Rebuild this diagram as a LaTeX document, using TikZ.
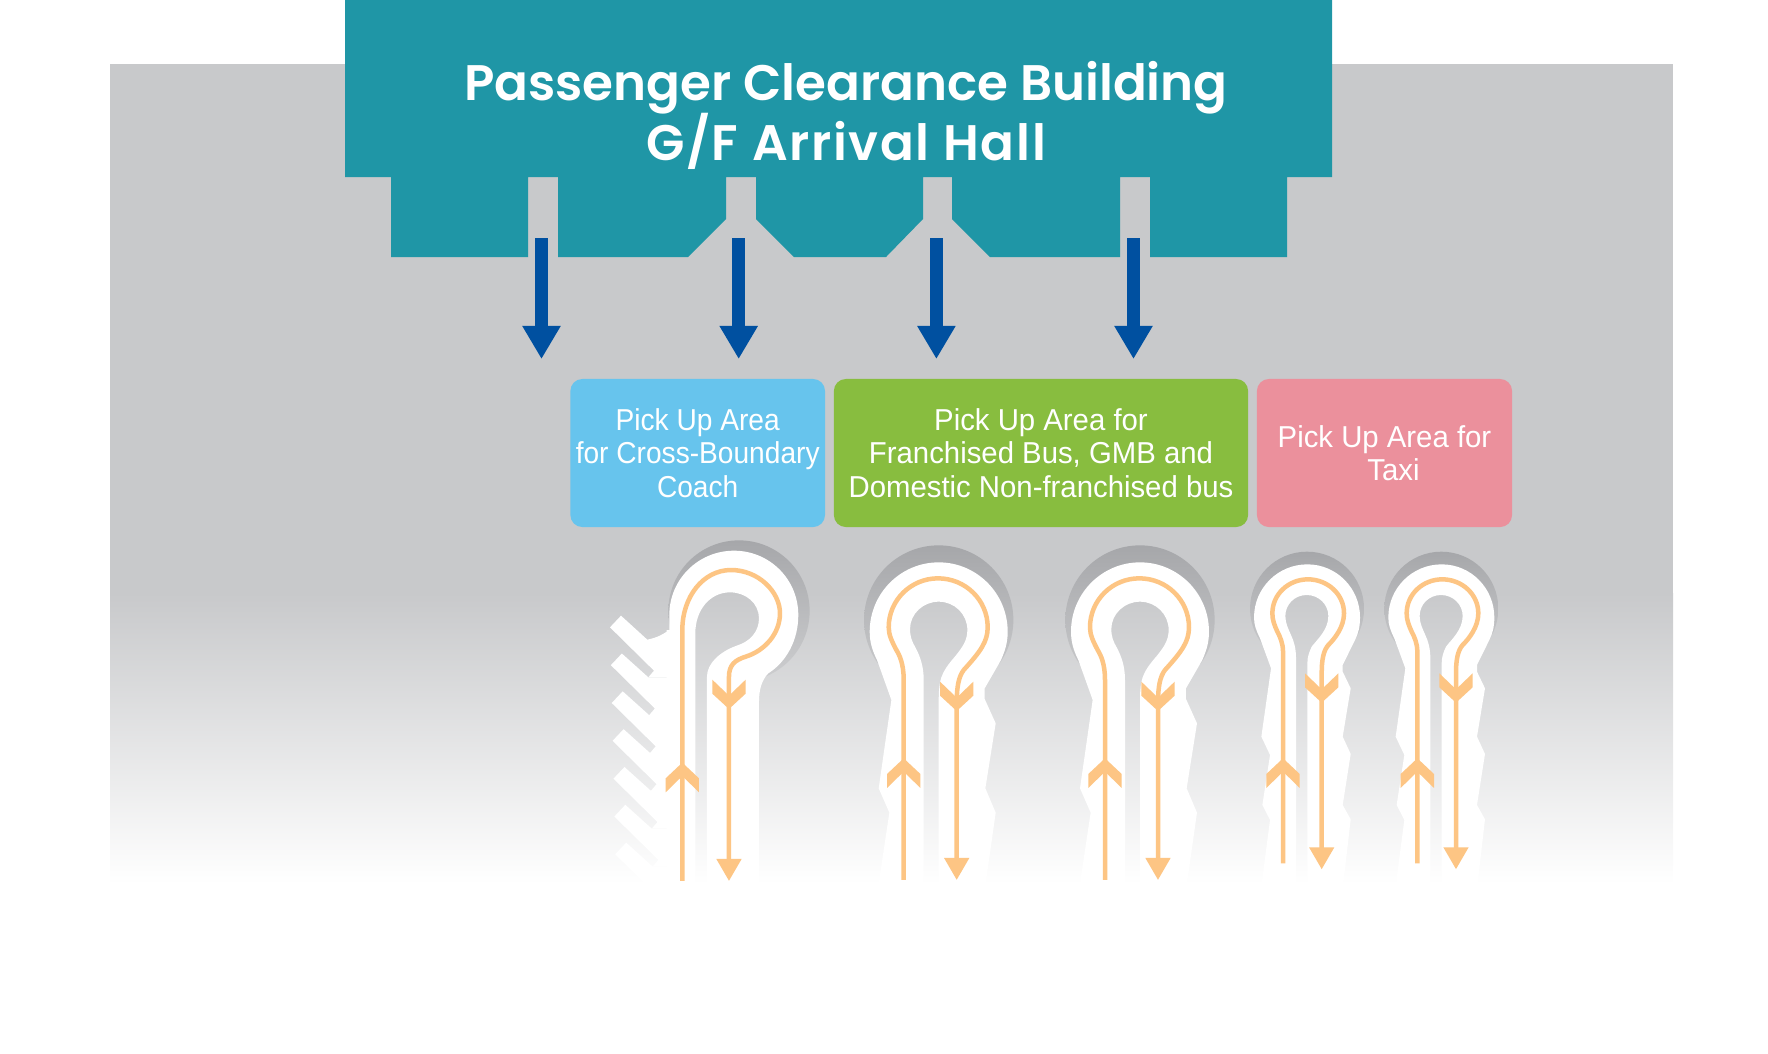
\documentclass[tikz,border=0pt]{standalone}
\usepackage{fontspec}
\setmainfont{Liberation Sans}
\newfontfamily\hallfont{Poppins SemiBold}
\newfontfamily\busfont[FakeStretch=.97]{Liberation Sans}
\newfontfamily\coachfont[FakeStretch=.93]{Liberation Sans}
\usetikzlibrary{arrows.meta}
\definecolor{bggray}{HTML}{C8C9CB}
\definecolor{hallteal}{HTML}{1F96A6}
\definecolor{walkblue}{HTML}{0050A0}
\definecolor{coachblue}{HTML}{67C4ED}
\definecolor{busgreen}{HTML}{88BD3F}
\definecolor{taxipink}{HTML}{EB909C}
\definecolor{lanecol}{HTML}{FDC584}
\definecolor{pinshadow}{HTML}{A6A7AA}
\newcommand{\chevup}[2]{\fill[lanecol] (#1,#2) -- ++(50,47) -- ++(0,42) -- ++(-50,-49) -- ++(-50,49) -- ++(0,-42) -- cycle;}
\newcommand{\chevdown}[2]{\fill[lanecol] (#1,#2) -- ++(50,-46) -- ++(0,-42) -- ++(-50,48) -- ++(-50,-48) -- ++(0,42) -- cycle;}
\tikzset{
  walkarrow/.style={line width=.13cm,walkblue,-{Triangle[width=.36cm,length=.33cm]}},
  lane/.style={line width=.045cm,lanecol,-{Triangle[width=.24cm,length=.22cm]}},
  pickup/.style={rounded corners=.12cm,minimum height=1.48cm,inner sep=0pt,text=white,align=center},
  crescent/.style={even odd rule,top color=pinshadow,middle color=pinshadow,bottom color=bggray!90!white},
  % big hairpin, units are a third of a pixel, y counted from the row top
  bigpin/.pic={
    \begin{scope}
      \clip (-300,0) rectangle (300,400);
      \shade[crescent] (0,270) circle (224) (0,270) circle (150);
    \end{scope}
    \fill[white] (-180,1060) -- (-148,848) -- (-180,775) -- (-142,510) -- (-185,390)
      .. controls (-200,360) and (-207,335) .. (-207,305)
      .. controls (-207,190) and (-114,97) .. (0,97)
      .. controls (114,97) and (207,190) .. (207,305)
      .. controls (207,345) and (195,370) .. (187,390)
      -- (138,475) -- (138,507) -- (171,580) -- (140,775) -- (171,848) -- (141,1060) -- (0,1060) -- (0,510)
      .. controls (0,470) and (5,445) .. (13,430)
      .. controls (25,405) and (45,385) .. (55,372)
      .. controls (72,350) and (86,330) .. (86,300)
      .. controls (86,252) and (47,215) .. (0,215)
      .. controls (-47,215) and (-86,252) .. (-86,297)
      .. controls (-86,320) and (-80,335) .. (-70,352)
      .. controls (-55,380) and (-45,410) .. (-45,450)
      -- (-45,1060) -- cycle;
    \draw[lane] (-105,1050) -- (-105,450)
      .. controls (-105,400) and (-118,375) .. (-127,360)
      .. controls (-140,335) and (-150,315) .. (-150,292)
      .. controls (-150,210) and (-83,145) .. (-2,145)
      .. controls (80,145) and (147,210) .. (147,292)
      .. controls (147,335) and (125,365) .. (75,420)
      .. controls (60,440) and (54,470) .. (54,520) -- (54,1050);
    \chevup{-105}{685}
    \chevdown{54}{543}
  },
  % small hairpin
  smallpin/.pic={
    \begin{scope}
      \clip (-300,0) rectangle (300,345);
      \shade[crescent] (1,236) circle (171) (1,250) circle (115);
    \end{scope}
    \fill[white] (-135,1060) -- (-110,870) -- (-133,825) -- (-110,675) -- (-136,620) -- (-107,415) -- (-140,325)
      .. controls (-152,300) and (-158,285) .. (-158,262)
      .. controls (-158,175) and (-87,103) .. (2,103)
      .. controls (90,103) and (160,175) .. (160,262)
      .. controls (160,290) and (155,310) .. (145,330)
      -- (108,405) -- (108,425) -- (132,475) -- (108,620) -- (132,672) -- (108,825) -- (132,868) -- (110,1060) -- (2,1060) -- (2,400)
      .. controls (2,380) and (8,365) .. (15,350)
      .. controls (30,330) and (65,300) .. (65,258)
      .. controls (65,223) and (36,195) .. (0,195)
      .. controls (-36,195) and (-64,223) .. (-64,258)
      .. controls (-64,280) and (-55,297) .. (-47,315)
      .. controls (-38,335) and (-32,355) .. (-32,385)
      -- (-32,1060) -- cycle;
    \draw[lane] (-71,1000) -- (-71,365)
      .. controls (-71,340) and (-80,320) .. (-88,305)
      .. controls (-97,285) and (-103,270) .. (-103,250)
      .. controls (-103,193) and (-55,148) .. (4,148)
      .. controls (63,148) and (112,193) .. (112,250)
      .. controls (112,290) and (85,325) .. (65,345)
      .. controls (50,362) and (45,390) .. (45,430) -- (45,1018);
    \chevup{-71}{685}
    \chevdown{45}{518}
  },
  % coach hairpin with its bays
  coachpin/.pic={
    \begin{scope}
      \clip (200,0) -- (720,0) -- (720,470) -- (540,470) -- (530,400) -- (462,265) -- (340,310) -- (200,310) -- cycle;
      \shade[crescent] (477,243) circle (212) (462,265) circle (150);
    \end{scope}
    \fill[white] (268,300) -- (268,255)
      .. controls (268,148) and (355,62) .. (462,62)
      .. controls (569,62) and (655,148) .. (655,255)
      .. controls (655,330) and (620,395) .. (565,430)
      .. controls (545,450) and (537,480) .. (537,515)
      -- (537,1060) -- (381,1060) -- (381,440)
      .. controls (381,400) and (420,365) .. (470,347)
      .. controls (510,335) and (537,305) .. (537,265)
      .. controls (537,220) and (498,187) .. (450,187)
      .. controls (390,187) and (346,240) .. (346,310)
      -- (346,1060) -- (260,1060) -- (260,300) -- cycle;
    \fill[white] (268,300) .. controls (250,312) and (235,322) .. (202,329) -- (123,257) -- (90,292) -- (222,422) -- (205,442) -- (310,442) -- (310,300) -- cycle;
    \foreach \k in {1,...,6}{
      \fill[white] ({123+2.6*\k},{257+113.5*\k}) -- ({90+2.6*\k},{292+113.5*\k}) -- ({222+2.6*\k},{422+113.5*\k})
        -- ({205+2.6*\k},{442+113.5*\k}) -- (310,{442+113.5*\k}) -- (310,{328.5+113.5*\k}) -- ({202.4+2.6*\k},{328.5+113.5*\k}) -- cycle;
    }
    \draw[lane] (307,1053) -- (307,300)
      .. controls (307,200) and (370,120) .. (453,120)
      .. controls (535,120) and (600,185) .. (600,250)
      .. controls (600,310) and (555,362) .. (497,380)
      .. controls (465,390) and (447,405) .. (447,440) -- (447,1053);
    \chevup{307}{698}
    \chevdown{447}{537}
  }
}
\begin{document}
\begin{tikzpicture}[x=.01cm,y=-.01cm]
  \useasboundingbox (0,0) rectangle (1768,1053);
  % ground
  \fill[bggray] (110,64) rectangle (1673,594);
  \shade[top color=bggray,bottom color=white] (110,593) rectangle (1673,884);
  % hall with its five wings
  \fill[hallteal] (345,0) -- (1332,0) -- (1332,177) -- (1287,177) -- (1287,257) -- (1150,257) -- (1150,177)
    -- (1120,177) -- (1120,257) -- (990,257) -- (952,219) -- (952,177) -- (923,177) -- (923,219) -- (886,257)
    -- (794,257) -- (756,219) -- (756,177) -- (726,177) -- (726,219) -- (688,257) -- (558,257) -- (558,177)
    -- (528,177) -- (528,257) -- (391,257) -- (391,177) -- (345,177) -- cycle;
  \node[text=white,align=center,font=\hallfont\fontsize{14.2}{17.3}\selectfont] (hall) at (846,115.5) {Passenger Clearance Building\\[-.045cm]{\addfontfeature{LetterSpace=3.4}G/F Arrival Hall}};
  % walkways out of the hall
  \foreach \i/\x in {1/541.5,2/738.7,3/936.4,4/1133.5}{
    \coordinate (door\i) at (\x,238);
    \coordinate (kerb\i) at (\x,359);
    \draw[walkarrow] (door\i) -- (kerb\i);
  }
  % pick up areas
  \node[pickup,fill=coachblue,minimum width=2.545cm,font=\coachfont\fontsize{8.6}{9.5}\selectfont] (coach) at (697.7,453) {Pick Up Area\\for Cross-Boundary\\Coach};
  \node[pickup,fill=busgreen,minimum width=4.14cm,font=\busfont\fontsize{8.6}{9.5}\selectfont] (bus) at (1041,453) {Pick Up Area for\\Franchised Bus, GMB and\\Domestic Non-franchised bus};
  \node[pickup,fill=taxipink,minimum width=2.55cm,font=\busfont\fontsize{8.6}{9.5}\selectfont] (taxi) at (1384.5,453) {Pick Up Area for\\\hspace*{.18cm}Taxi};
  % hairpins
  \pic[scale=.3333] (pincoach) at (580,530) {coachpin};
  \pic[scale=.3333] (pinbusa) at (938.7,530) {bigpin};
  \pic[scale=.3333] (pinbusb) at (1140,530) {bigpin};
  \pic[scale=.3333] (pintaxia) at (1306.7,530) {smallpin};
  \pic[scale=.3333] (pintaxib) at (1441,530) {smallpin};
\end{tikzpicture}
\end{document}
